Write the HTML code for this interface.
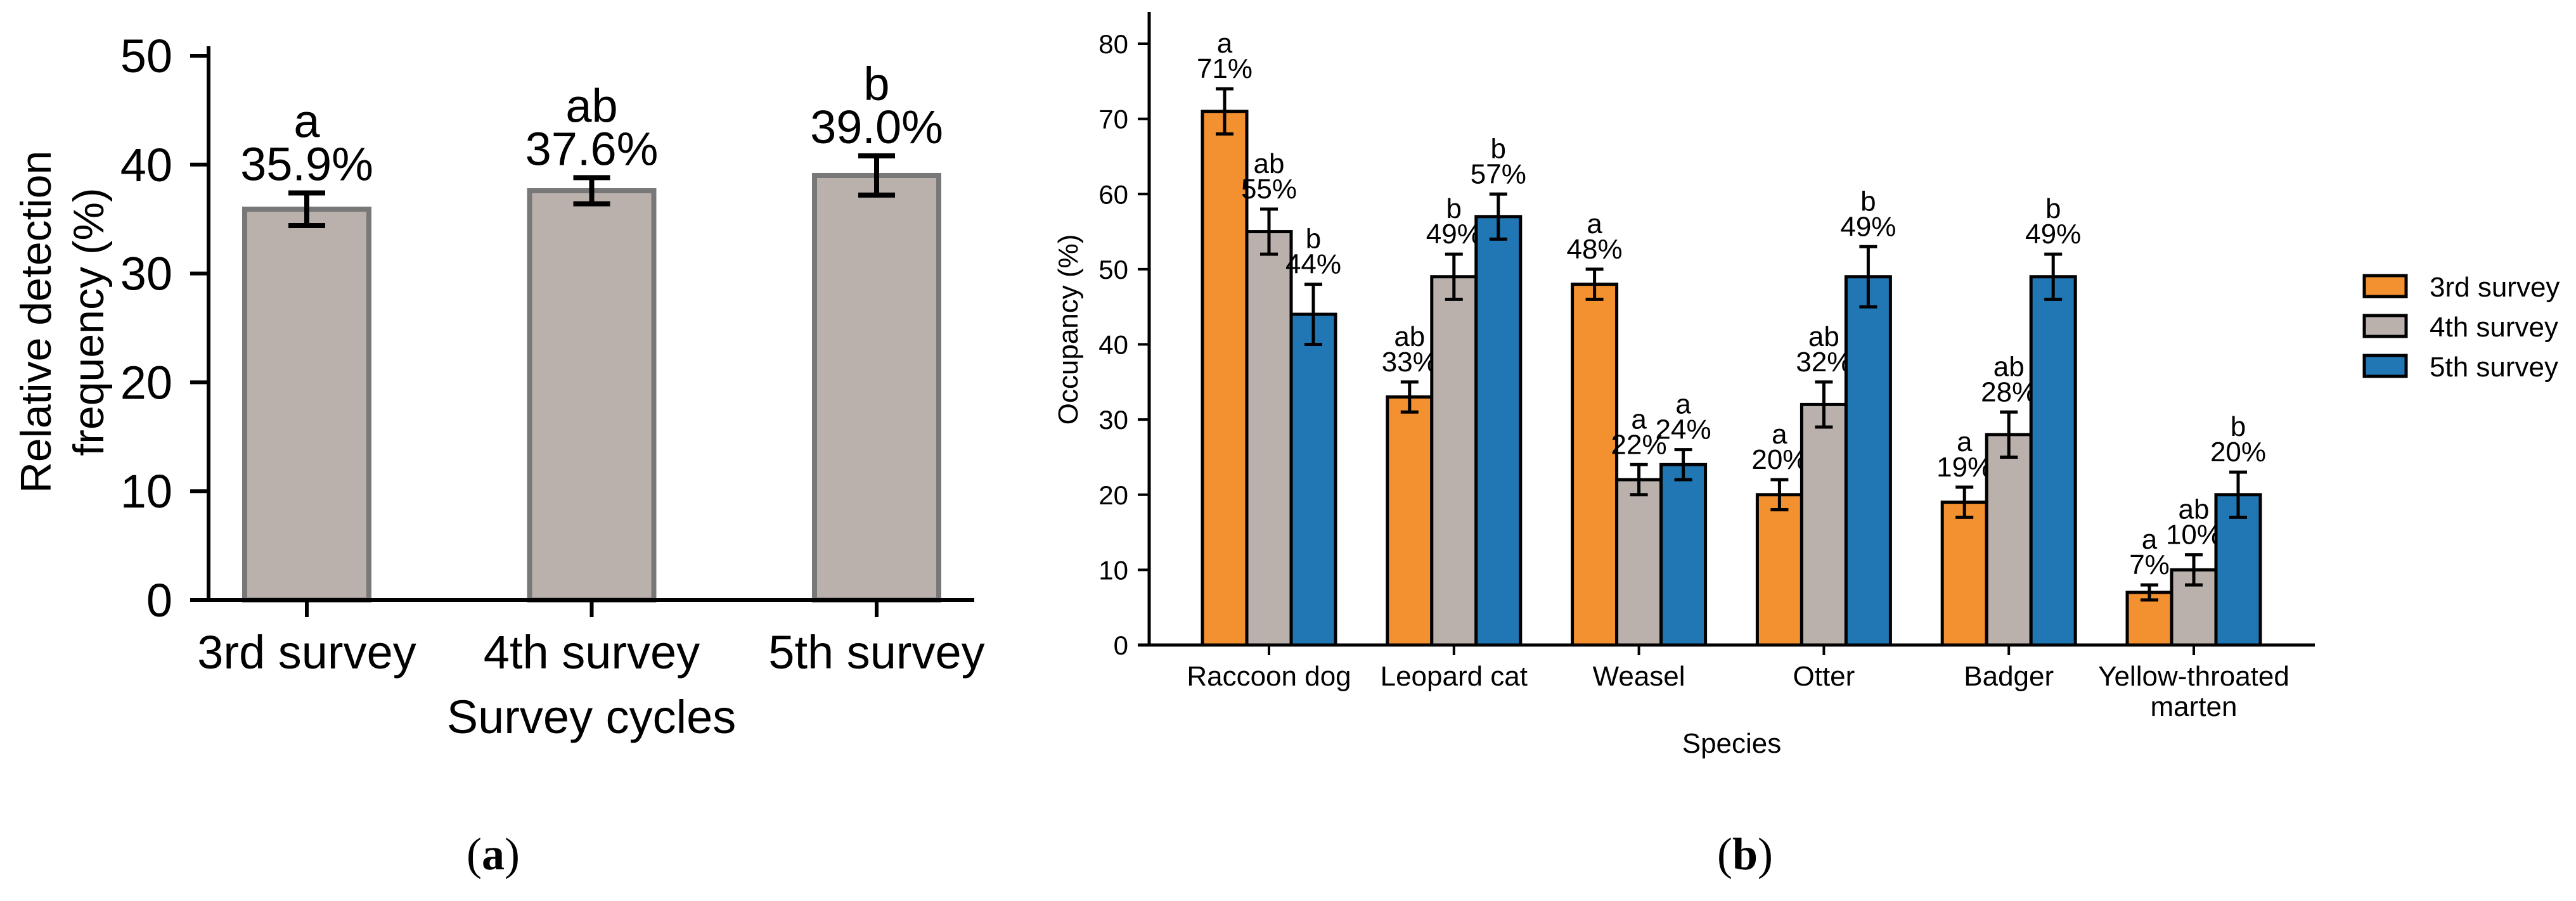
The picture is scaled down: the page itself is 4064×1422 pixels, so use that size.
<!DOCTYPE html>
<html><head><meta charset="utf-8"><style>
html,body{margin:0;padding:0;background:#fff;}
svg{display:block;font-family:"Liberation Sans",Arial,sans-serif;}
</style></head><body>
<svg id="fig" width="4064" height="1422" viewBox="0 0 4064 1422" xmlns="http://www.w3.org/2000/svg">
<g id="chartA"></g>
<g id="chartB"></g>
<text x="778" y="1372" font-family="Liberation Serif, serif" font-size="72" text-anchor="middle">(<tspan font-weight="bold">a</tspan>)</text>
<text x="2753" y="1372" font-family="Liberation Serif, serif" font-size="72" text-anchor="middle">(<tspan font-weight="bold">b</tspan>)</text>
</svg>
<script>
// Panel A data
const aCategories = ["3rd survey", "4th survey", "5th survey"];
const aValues = [35.9, 37.6, 39.0];
const aErrors = [1.5, 1.2, 1.8];
const aLetters = ["a", "ab", "b"];
const aTicks = [0, 10, 20, 30, 40, 50];
// Panel B data
const bCategories = [["Raccoon dog"], ["Leopard cat"], ["Weasel"], ["Otter"], ["Badger"], ["Yellow-throated", "marten"]];
const bSeriesNames = ["3rd survey", "4th survey", "5th survey"];
const bSurvey3 = [71, 33, 48, 20, 19, 7];
const bSurvey4 = [55, 49, 22, 32, 28, 10];
const bSurvey5 = [44, 57, 24, 49, 49, 20];
const bErr3 = [3, 2, 2, 2, 2, 1];
const bErr4 = [3, 3, 2, 3, 3, 2];
const bErr5 = [4, 3, 2, 4, 3, 3];
const bLet3 = ["a", "ab", "a", "a", "a", "a"];
const bLet4 = ["ab", "b", "a", "ab", "ab", "ab"];
const bLet5 = ["b", "b", "a", "b", "b", "b"];
const bTicks = [0, 10, 20, 30, 40, 50, 60, 70, 80];

const NS = "http://www.w3.org/2000/svg";
function mk(parent, tag, attrs, text) {
  const e = document.createElementNS(NS, tag);
  for (const k in attrs) e.setAttribute(k, attrs[k]);
  if (text !== undefined) e.textContent = text;
  parent.appendChild(e);
  return e;
}

// ---------- Panel A ----------
(function () {
  const g = document.getElementById("chartA");
  const x0 = 329, y0 = 947, yTop = 88, yMaxV = 50;
  const yA = v => y0 - (v / yMaxV) * (y0 - yTop);
  const centers = [484, 934, 1383];
  const xA = i => centers[0] + i * (centers[2] - centers[0]) / (aCategories.length - 1);
  const bw = 196;
  aValues.forEach((v, i) => {
    const cx = xA(i);
    const r = mk(g, "rect", { x: cx - bw / 2, y: yA(v), width: bw, height: y0 - yA(v), fill: "#bab1ac", stroke: "#787878", "stroke-width": 8 });
    
    
    const top = yA(v + aErrors[i]), bot = yA(v - aErrors[i]);
    const eb = mk(g, "path", { d: `M${cx},${top}V${bot}M${cx - 29},${top}H${cx + 29}M${cx - 29},${bot}H${cx + 29}`, stroke: "#000", "stroke-width": 8, fill: "none" });
    
    
    const t1 = mk(g, "text", { x: cx, y: top - 20, "font-size": 74, "text-anchor": "middle" }, v.toFixed(1) + "%");
    
    
    const t2 = mk(g, "text", { x: cx, y: top - 88, "font-size": 74, "text-anchor": "middle" }, aLetters[i]);
    
    
    const tk = mk(g, "line", { x1: cx, x2: cx, y1: y0, y2: y0 + 27, stroke: "#000", "stroke-width": 6 });
    
    
    const tl = mk(g, "text", { x: cx, y: 1055, "font-size": 74, "text-anchor": "middle" }, aCategories[i]);
    
    
  });
  aTicks.forEach(t => {
    const y = yA(t);
    const l = mk(g, "line", { x1: 300, x2: x0, y1: y, y2: y, stroke: "#000", "stroke-width": 6 });
    
    
    const tt = mk(g, "text", { x: 272, y: y + 26, "font-size": 74, "text-anchor": "end" }, String(t));
    
    
  });
  const ax = mk(g, "path", { d: `M${x0},73V${y0}M300,${y0}H1537`, stroke: "#000", "stroke-width": 6, fill: "none" });
  
  
  const xt = mk(g, "text", { x: 933, y: 1157, "font-size": 74, "text-anchor": "middle" }, "Survey cycles");
  
  
  const yt = mk(g, "text", { transform: "translate(80,508) rotate(-90)", "font-size": 68, "text-anchor": "middle" });
  
  
  mk(yt, "tspan", { x: 0, y: 0 }, "Relative detection");
  mk(yt, "tspan", { x: 0, y: 83 }, "frequency (%)");
})();

// ---------- Panel B ----------
(function () {
  const g = document.getElementById("chartB");
  const x0 = 1813, y0 = 1018, y80 = 69;
  const yB = v => y0 - (v / 80) * (y0 - y80);
  const c0 = 2002, c5 = 3461;
  const xB = i => c0 + i * (c5 - c0) / (bCategories.length - 1);
  const bw = 70;
  const colors = ["#f39030", "#bab1ac", "#2077b4"];
  const series = [bSurvey3, bSurvey4, bSurvey5];
  const errs = [bErr3, bErr4, bErr5];
  const lets = [bLet3, bLet4, bLet5];
  bCategories.forEach((cat, i) => {
    const cx = xB(i);
    series.forEach((s, j) => {
      const bx = cx + (j - 1) * bw;
      const v = s[i];
      const r = mk(g, "rect", { x: bx - bw / 2, y: yB(v), width: bw, height: y0 - yB(v), fill: colors[j], stroke: "#000", "stroke-width": 5 });
      
      
      const top = yB(v + errs[j][i]), bot = yB(v - errs[j][i]);
      const eb = mk(g, "path", { d: `M${bx},${top}V${bot}M${bx - 14},${top}H${bx + 14}M${bx - 14},${bot}H${bx + 14}`, stroke: "#000", "stroke-width": 5, fill: "none" });
      
      
      const t1 = mk(g, "text", { x: bx, y: top - 17, "font-size": 44, "text-anchor": "middle" }, v + "%");
      
      
      const t2 = mk(g, "text", { x: bx, y: top - 57, "font-size": 44, "text-anchor": "middle" }, lets[j][i]);
      
      
    });
    const tk = mk(g, "line", { x1: cx, x2: cx, y1: y0, y2: y0 + 16, stroke: "#000", "stroke-width": 4 });
    
    
    cat.forEach((line, k) => {
      const tl = mk(g, "text", { x: cx, y: 1082 + k * 48, "font-size": 44, "text-anchor": "middle" }, line);
      
      
    });
  });
  bTicks.forEach(t => {
    const y = yB(t);
    const l = mk(g, "line", { x1: 1795, x2: x0, y1: y, y2: y, stroke: "#000", "stroke-width": 4 });
    
    
    const tt = mk(g, "text", { x: 1780, y: y + 15, "font-size": 42, "text-anchor": "end" }, String(t));
    
    
  });
  const ax = mk(g, "path", { d: `M${x0},19V${y0}M1795,${y0}H3652`, stroke: "#000", "stroke-width": 5, fill: "none" });
  
  
  const xt = mk(g, "text", { x: 2732, y: 1188, "font-size": 44, "text-anchor": "middle" }, "Species");
  
  
  const yt = mk(g, "text", { transform: "translate(1700,520) rotate(-90)", "font-size": 44, "text-anchor": "middle" }, "Occupancy (%)");
  
  
  bSeriesNames.forEach((n, j) => {
    const y = 435 + j * 63;
    const r = mk(g, "rect", { x: 3730, y: y, width: 66, height: 33, fill: colors[j], stroke: "#000", "stroke-width": 5 });
    
    
    const t = mk(g, "text", { x: 3833, y: y + 33, "font-size": 44 }, n);
    
    
  });
})();
</script>
</body></html>
